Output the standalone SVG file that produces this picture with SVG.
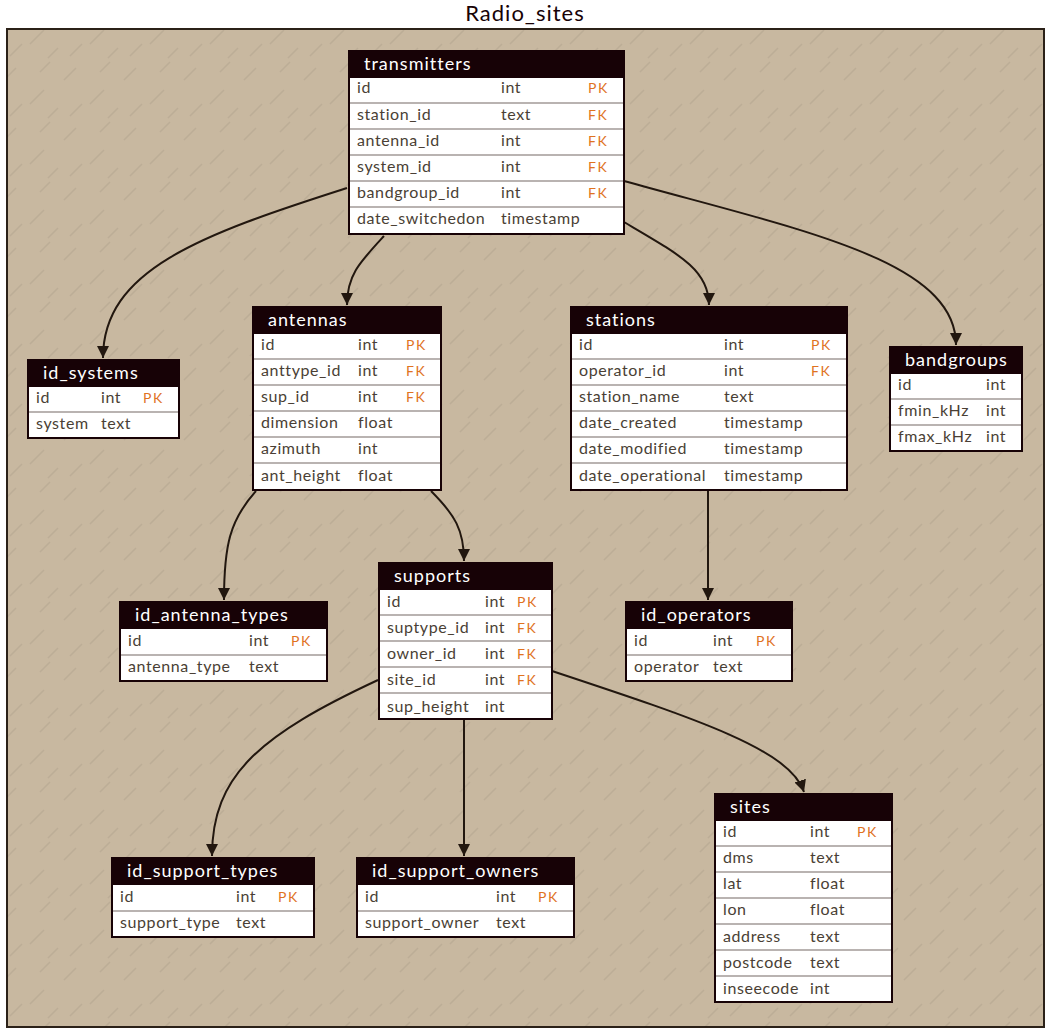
<svg xmlns="http://www.w3.org/2000/svg" width="1050" height="1034" viewBox="0 0 1050 1034">
<style>
.title{font-family:Lato,"Open Sans",sans-serif;font-size:22px;fill:#170206;letter-spacing:1px}
.hdr{fill:#170206;stroke:#170206;stroke-width:2}
.box{fill:#ffffff;stroke:#170206;stroke-width:2}
.htxt{font-family:Lato,"Open Sans",sans-serif;font-size:18px;fill:#ffffff;letter-spacing:1px}
.c{font-family:Lato,"Open Sans",sans-serif;font-size:16px;fill:#4a3f35;letter-spacing:0.6px}
.k{font-family:Lato,"Open Sans",sans-serif;font-size:14px;fill:#e0731f;letter-spacing:1.5px}
.sep{stroke:#3a2a25;stroke-width:1.2;opacity:0.7}
.edge{fill:none;stroke:#22170f;stroke-width:2}
</style>
<defs>
<pattern id="streaks" width="60" height="60" patternUnits="userSpaceOnUse">
<path d="M4 20 L16 8 M30 44 L44 30 M40 12 L50 2 M10 56 L22 44 M48 58 L58 48" stroke="#000" stroke-opacity="0.06" stroke-width="1.5" fill="none"/>
</pattern>
<marker id="arr" markerWidth="12" markerHeight="12" refX="10" refY="5" orient="auto" markerUnits="userSpaceOnUse" viewBox="0 0 10 10">
<path d="M0 0 L10 5 L0 10 z" fill="#22170f"/>
</marker>
</defs>
<rect x="0" y="0" width="1050" height="1034" fill="#ffffff"/>
<g id="Radio_sites">
<rect x="7" y="29" width="1037" height="998" fill="#c8b8a0" stroke="#2b2118" stroke-width="2"/>
<rect x="7" y="29" width="1037" height="998" fill="url(#streaks)"/>
<text class="title" x="525" y="21" text-anchor="middle">Radio_sites</text>
</g>
<g id="connectors">
<path class="edge" marker-end="url(#arr)" d="M347 188 C200 235 103 270 103 358"/>
<path class="edge" marker-end="url(#arr)" d="M384 236 C360 262 347 275 347 305"/>
<path class="edge" marker-end="url(#arr)" d="M624 222 C680 255 709 270 709 305"/>
<path class="edge" marker-end="url(#arr)" d="M624 181 C800 230 956 260 956 345"/>
<path class="edge" marker-end="url(#arr)" d="M256 491 C230 520 224 545 224 600"/>
<path class="edge" marker-end="url(#arr)" d="M431 491 C455 515 464 530 464 561"/>
<path class="edge" marker-end="url(#arr)" d="M708 491 L708 600"/>
<path class="edge" marker-end="url(#arr)" d="M378 680 C260 735 212 775 212 856"/>
<path class="edge" marker-end="url(#arr)" d="M464 720 L464 856"/>
<path class="edge" marker-end="url(#arr)" d="M552 671 C700 720 790 750 804 792"/>
</g>
<g id="transmitters">
<rect class="box" x="349" y="51" width="275" height="183"/>
<rect class="hdr" x="349" y="51" width="275" height="26"/>
<text class="htxt" x="364" y="70">transmitters</text>
<line class="sep" x1="350" y1="103" x2="623" y2="103"/>
<line class="sep" x1="350" y1="129" x2="623" y2="129"/>
<line class="sep" x1="350" y1="155" x2="623" y2="155"/>
<line class="sep" x1="350" y1="181" x2="623" y2="181"/>
<line class="sep" x1="350" y1="207" x2="623" y2="207"/>
<text class="c" x="357" y="93">id</text><text class="c" x="501" y="93">int</text><text class="k" x="588" y="93">PK</text>
<text class="c" x="357" y="120">station_id</text><text class="c" x="501" y="120">text</text><text class="k" x="588" y="120">FK</text>
<text class="c" x="357" y="146">antenna_id</text><text class="c" x="501" y="146">int</text><text class="k" x="588" y="146">FK</text>
<text class="c" x="357" y="172">system_id</text><text class="c" x="501" y="172">int</text><text class="k" x="588" y="172">FK</text>
<text class="c" x="357" y="198">bandgroup_id</text><text class="c" x="501" y="198">int</text><text class="k" x="588" y="198">FK</text>
<text class="c" x="357" y="224">date_switchedon</text><text class="c" x="501" y="224">timestamp</text>
</g>
<g id="antennas">
<rect class="box" x="253" y="307" width="188" height="183"/>
<rect class="hdr" x="253" y="307" width="188" height="26"/>
<text class="htxt" x="268" y="326">antennas</text>
<line class="sep" x1="254" y1="359" x2="440" y2="359"/>
<line class="sep" x1="254" y1="385" x2="440" y2="385"/>
<line class="sep" x1="254" y1="411" x2="440" y2="411"/>
<line class="sep" x1="254" y1="437" x2="440" y2="437"/>
<line class="sep" x1="254" y1="463" x2="440" y2="463"/>
<text class="c" x="261" y="350">id</text><text class="c" x="358" y="350">int</text><text class="k" x="406" y="350">PK</text>
<text class="c" x="261" y="376">anttype_id</text><text class="c" x="358" y="376">int</text><text class="k" x="406" y="376">FK</text>
<text class="c" x="261" y="402">sup_id</text><text class="c" x="358" y="402">int</text><text class="k" x="406" y="402">FK</text>
<text class="c" x="261" y="428">dimension</text><text class="c" x="358" y="428">float</text>
<text class="c" x="261" y="454">azimuth</text><text class="c" x="358" y="454">int</text>
<text class="c" x="261" y="481">ant_height</text><text class="c" x="358" y="481">float</text>
</g>
<g id="stations">
<rect class="box" x="571" y="307" width="276" height="183"/>
<rect class="hdr" x="571" y="307" width="276" height="26"/>
<text class="htxt" x="586" y="326">stations</text>
<line class="sep" x1="572" y1="359" x2="846" y2="359"/>
<line class="sep" x1="572" y1="385" x2="846" y2="385"/>
<line class="sep" x1="572" y1="411" x2="846" y2="411"/>
<line class="sep" x1="572" y1="437" x2="846" y2="437"/>
<line class="sep" x1="572" y1="463" x2="846" y2="463"/>
<text class="c" x="579" y="350">id</text><text class="c" x="724" y="350">int</text><text class="k" x="811" y="350">PK</text>
<text class="c" x="579" y="376">operator_id</text><text class="c" x="724" y="376">int</text><text class="k" x="811" y="376">FK</text>
<text class="c" x="579" y="402">station_name</text><text class="c" x="724" y="402">text</text>
<text class="c" x="579" y="428">date_created</text><text class="c" x="724" y="428">timestamp</text>
<text class="c" x="579" y="454">date_modified</text><text class="c" x="724" y="454">timestamp</text>
<text class="c" x="579" y="481">date_operational</text><text class="c" x="724" y="481">timestamp</text>
</g>
<g id="id_systems">
<rect class="box" x="28" y="360" width="151" height="78"/>
<rect class="hdr" x="28" y="360" width="151" height="26"/>
<text class="htxt" x="43" y="379">id_systems</text>
<line class="sep" x1="29" y1="412" x2="178" y2="412"/>
<text class="c" x="36" y="403">id</text><text class="c" x="101" y="403">int</text><text class="k" x="143" y="403">PK</text>
<text class="c" x="36" y="429">system</text><text class="c" x="101" y="429">text</text>
</g>
<g id="bandgroups">
<rect class="box" x="890" y="347" width="132" height="104"/>
<rect class="hdr" x="890" y="347" width="132" height="26"/>
<text class="htxt" x="905" y="366">bandgroups</text>
<line class="sep" x1="891" y1="399" x2="1021" y2="399"/>
<line class="sep" x1="891" y1="425" x2="1021" y2="425"/>
<text class="c" x="898" y="390">id</text><text class="c" x="986" y="390">int</text>
<text class="c" x="898" y="416">fmin_kHz</text><text class="c" x="986" y="416">int</text>
<text class="c" x="898" y="442">fmax_kHz</text><text class="c" x="986" y="442">int</text>
</g>
<g id="supports">
<rect class="box" x="379" y="563" width="173" height="156"/>
<rect class="hdr" x="379" y="563" width="173" height="26"/>
<text class="htxt" x="394" y="582">supports</text>
<line class="sep" x1="380" y1="615" x2="551" y2="615"/>
<line class="sep" x1="380" y1="641" x2="551" y2="641"/>
<line class="sep" x1="380" y1="667" x2="551" y2="667"/>
<line class="sep" x1="380" y1="693" x2="551" y2="693"/>
<text class="c" x="387" y="607">id</text><text class="c" x="485" y="607">int</text><text class="k" x="517" y="607">PK</text>
<text class="c" x="387" y="633">suptype_id</text><text class="c" x="485" y="633">int</text><text class="k" x="517" y="633">FK</text>
<text class="c" x="387" y="659">owner_id</text><text class="c" x="485" y="659">int</text><text class="k" x="517" y="659">FK</text>
<text class="c" x="387" y="685">site_id</text><text class="c" x="485" y="685">int</text><text class="k" x="517" y="685">FK</text>
<text class="c" x="387" y="712">sup_height</text><text class="c" x="485" y="712">int</text>
</g>
<g id="id_antenna_types">
<rect class="box" x="120" y="602" width="207" height="79"/>
<rect class="hdr" x="120" y="602" width="207" height="26"/>
<text class="htxt" x="135" y="621">id_antenna_types</text>
<line class="sep" x1="121" y1="655" x2="326" y2="655"/>
<text class="c" x="128" y="646">id</text><text class="c" x="249" y="646">int</text><text class="k" x="291" y="646">PK</text>
<text class="c" x="128" y="672">antenna_type</text><text class="c" x="249" y="672">text</text>
</g>
<g id="id_operators">
<rect class="box" x="626" y="602" width="166" height="79"/>
<rect class="hdr" x="626" y="602" width="166" height="26"/>
<text class="htxt" x="641" y="621">id_operators</text>
<line class="sep" x1="627" y1="655" x2="791" y2="655"/>
<text class="c" x="634" y="646">id</text><text class="c" x="713" y="646">int</text><text class="k" x="756" y="646">PK</text>
<text class="c" x="634" y="672">operator</text><text class="c" x="713" y="672">text</text>
</g>
<g id="id_support_types">
<rect class="box" x="112" y="858" width="202" height="79"/>
<rect class="hdr" x="112" y="858" width="202" height="26"/>
<text class="htxt" x="127" y="877">id_support_types</text>
<line class="sep" x1="113" y1="911" x2="313" y2="911"/>
<text class="c" x="120" y="902">id</text><text class="c" x="236" y="902">int</text><text class="k" x="278" y="902">PK</text>
<text class="c" x="120" y="928">support_type</text><text class="c" x="236" y="928">text</text>
</g>
<g id="id_support_owners">
<rect class="box" x="357" y="858" width="217" height="79"/>
<rect class="hdr" x="357" y="858" width="217" height="26"/>
<text class="htxt" x="372" y="877">id_support_owners</text>
<line class="sep" x1="358" y1="911" x2="573" y2="911"/>
<text class="c" x="365" y="902">id</text><text class="c" x="496" y="902">int</text><text class="k" x="538" y="902">PK</text>
<text class="c" x="365" y="928">support_owner</text><text class="c" x="496" y="928">text</text>
</g>
<g id="sites">
<rect class="box" x="715" y="794" width="177" height="208"/>
<rect class="hdr" x="715" y="794" width="177" height="26"/>
<text class="htxt" x="730" y="813">sites</text>
<line class="sep" x1="716" y1="846" x2="891" y2="846"/>
<line class="sep" x1="716" y1="872" x2="891" y2="872"/>
<line class="sep" x1="716" y1="898" x2="891" y2="898"/>
<line class="sep" x1="716" y1="924" x2="891" y2="924"/>
<line class="sep" x1="716" y1="950" x2="891" y2="950"/>
<line class="sep" x1="716" y1="976" x2="891" y2="976"/>
<text class="c" x="723" y="837">id</text><text class="c" x="810" y="837">int</text><text class="k" x="857" y="837">PK</text>
<text class="c" x="723" y="863">dms</text><text class="c" x="810" y="863">text</text>
<text class="c" x="723" y="889">lat</text><text class="c" x="810" y="889">float</text>
<text class="c" x="723" y="915">lon</text><text class="c" x="810" y="915">float</text>
<text class="c" x="723" y="942">address</text><text class="c" x="810" y="942">text</text>
<text class="c" x="723" y="968">postcode</text><text class="c" x="810" y="968">text</text>
<text class="c" x="723" y="994">inseecode</text><text class="c" x="810" y="994">int</text>
</g>
</svg>
